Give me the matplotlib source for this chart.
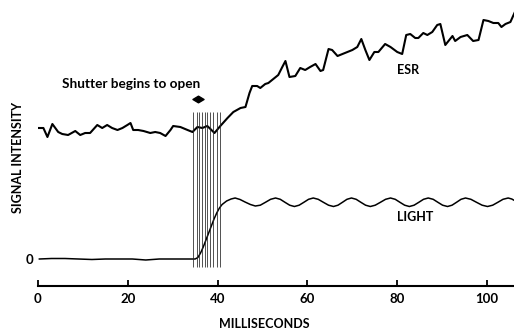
import numpy as np
import matplotlib
matplotlib.use('Agg')
import matplotlib.pyplot as plt
from matplotlib.path import Path

plt.rcParams['font.family'] = ['Lato', 'DejaVu Sans']
plt.rcParams['font.weight'] = 'bold'

# ESR trace (ms, signal)
esr_t = [0.1, 1.2, 2.1, 3.2, 4.5, 5.4, 6.7, 8.3, 9.4, 10.5, 11.6, 13.2, 14.3, 15.4, 16.5,
         17.7, 18.8, 19.9, 20.6, 21.2, 22.3, 23.5, 25.0, 26.1, 27.2, 28.4, 29.5, 30.1, 31.7,
         33.3, 34.4, 35.5, 36.6, 37.7, 38.4, 39.3, 40.6, 42.2, 43.5, 45.1, 46.2, 47.1, 47.7,
         48.8, 49.5, 50.6, 51.3, 52.4, 53.5, 54.4, 55.1, 56.0, 57.3, 58.4, 59.5, 60.6, 61.8,
         62.9, 63.5, 64.7, 65.5, 66.7, 67.8, 68.9, 70.0, 71.1, 72.0, 72.9, 73.8, 74.9, 75.8,
         77.3, 78.5, 80.0, 81.1, 82.0, 82.9, 84.0, 84.7, 85.8, 86.7, 87.8, 88.9, 89.6, 90.7,
         92.3, 92.9, 94.1, 95.6, 96.9, 98.1, 99.2, 100.3, 101.4, 102.5, 103.2, 104.1, 105.2, 106.1]
esr_v = [13.1, 13.1, 12.2, 13.5, 12.7, 12.5, 12.4, 12.8, 12.4, 12.6, 12.6, 13.4, 13.1, 13.4, 13.1,
         12.9, 13.1, 13.4, 13.6, 12.9, 12.9, 12.8, 12.6, 12.7, 12.6, 12.3, 12.9, 13.3, 13.2,
         12.9, 12.7, 13.2, 13.1, 13.3, 13.0, 12.6, 13.3, 14.1, 14.7, 15.1, 15.2, 16.6, 17.3,
         17.3, 17.1, 17.5, 17.6, 18.0, 18.4, 19.2, 19.8, 18.2, 18.3, 19.1, 18.9, 19.2, 19.5,
         18.8, 18.9, 21.0, 20.9, 20.3, 20.5, 20.7, 20.9, 21.2, 22.0, 20.9, 19.9, 20.7, 20.7,
         21.5, 21.2, 20.7, 20.5, 22.4, 22.5, 22.1, 22.1, 22.6, 22.4, 22.7, 23.4, 23.5, 21.4,
         22.3, 21.8, 22.2, 22.4, 21.8, 21.9, 23.9, 23.8, 23.6, 23.6, 23.2, 23.5, 23.7, 24.6]

# light trace (ms, signal)
light_t = [0.3, 3, 6, 9, 12, 15, 18, 21, 24, 27, 30, 33, 35.0, 35.6, 36.2, 36.8, 37.4, 38.0,
           38.6, 39.2, 39.8, 40.4, 41.0, 42.0, 43.0, 43.9, 45.0, 46.1, 47.3, 48.4,
           49.5, 50.65, 51.8, 52.9, 53.95, 55.0, 56.05, 57.1, 58.15, 59.2, 60.25, 61.3,
           62.4, 63.55, 64.7, 65.8, 66.8, 67.8, 68.8, 69.8, 70.85, 71.9, 72.95, 74.0,
           75.1, 76.25, 77.4, 78.5, 79.55, 80.6, 81.65, 82.7, 83.75, 84.8, 85.85, 86.9,
           88.0, 89.05, 90.1, 91.2, 92.2, 93.2, 94.2, 95.2, 96.4, 97.65, 98.9, 100.1,
           101.25, 102.4, 103.55, 104.7, 105.5, 106.1]
light_v = [0.0, 0.05, 0.05, 0.0, -0.05, 0.0, 0.0, 0.0, -0.1, 0.0, 0.0, 0.0, 0.0, 0.15, 0.6,
           1.2, 1.9, 2.6, 3.3, 4.0, 4.6, 5.1, 5.45, 5.8, 6.0, 6.1, 5.95, 5.7, 5.45, 5.3,
           5.38, 5.67, 5.97, 6.1, 5.97, 5.67, 5.38, 5.25, 5.38, 5.67, 5.97, 6.1,
           5.97, 5.67, 5.38, 5.25, 5.38, 5.67, 5.97, 6.1, 5.97, 5.67, 5.38, 5.25,
           5.38, 5.67, 5.97, 6.1, 5.97, 5.67, 5.38, 5.25, 5.38, 5.67, 5.97, 6.1,
           5.97, 5.67, 5.38, 5.25, 5.38, 5.67, 5.97, 6.1, 5.97, 5.67, 5.38, 5.25,
           5.38, 5.67, 5.97, 6.1, 6.0, 5.85]

# shutter opening lines
shutter_t = [34.6, 35.3, 35.8, 36.6, 37.2, 37.7, 38.4, 39.0, 39.9, 40.5]
shutter_lo, shutter_hi = -0.8, 14.7
shutter_mark = (35.7, 16.0)

xticks = [0, 20, 40, 60, 80, 100]

fig = plt.figure(figsize=(5.14, 3.30), dpi=100)
ax = fig.add_axes([38/514, 44/330, 476/514, 286/330])

ax.plot(esr_t, esr_v, color='black', lw=1.5, solid_joinstyle='round')
ax.plot(light_t, light_v, color='black', lw=1.1, solid_joinstyle='round')
ax.vlines(shutter_t, shutter_lo, shutter_hi, color='#222222', lw=0.55)

diamond = Path([(-1, 0), (0, 0.6), (1, 0), (0, -0.6), (-1, 0)],
               [Path.MOVETO, Path.LINETO, Path.LINETO, Path.LINETO, Path.CLOSEPOLY])
ax.plot([shutter_mark[0]], [shutter_mark[1]], marker=diamond, ms=8, color='black', ls='none')

ax.text(20.8, 17.5, 'Shutter begins to open', ha='center', va='center', fontsize=9.8)
ax.text(82.5, 18.9, 'ESR', ha='center', va='center', fontsize=9)
ax.text(84.0, 4.2, 'LIGHT', ha='center', va='center', fontsize=9)

ax.set_xlim(0, 106.0)
ax.set_ylim(-2.7, 25.9)
ax.set_xticks(xticks)
ax.set_yticks([0])
ax.set_yticklabels(['0'])
ax.tick_params(axis='x', direction='in', length=4.5, width=1.3, pad=5, labelsize=9.5)
ax.tick_params(axis='y', length=0, pad=3, labelsize=9.5)
for s in ['top', 'right', 'left']:
    ax.spines[s].set_visible(False)
ax.spines['bottom'].set_linewidth(1.5)

fig.text(18/514, 1 - 157/330, 'SIGNAL INTENSITY', rotation=90, ha='center', va='center', fontsize=9)
fig.text(264/514, 1 - 324/330, 'MILLISECONDS', ha='center', va='center', fontsize=9)

fig.savefig('out.png', dpi=100)
